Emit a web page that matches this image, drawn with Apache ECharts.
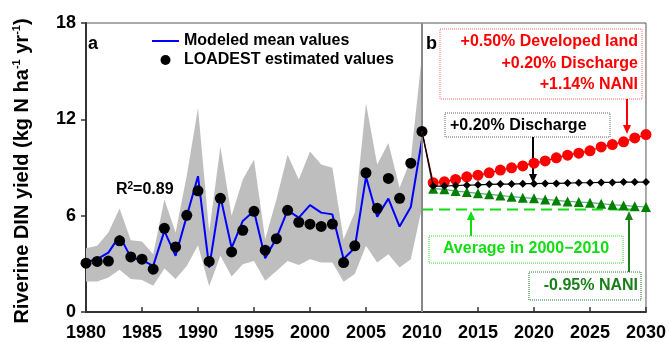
<!DOCTYPE html>
<html>
<head>
<meta charset="utf-8">
<script src="https://cdn.jsdelivr.net/npm/echarts@6.0.0/dist/echarts.min.js"></script>
<style>
  html, body { margin: 0; padding: 0; background: #ffffff; }
  #chart { width: 669px; height: 342px; }
</style>
</head>
<body>
<div id="chart"></div>
<script>
// observed period
const years = [1980, 1981, 1982, 1983, 1984, 1985, 1986, 1987, 1988, 1989, 1990,
  1991, 1992, 1993, 1994, 1995, 1996, 1997, 1998, 1999, 2000,
  2001, 2002, 2003, 2004, 2005, 2006, 2007, 2008, 2009, 2010]
const modeled = [3.1, 3.3, 3.7, 4.74, 3.4, 3.23, 2.87, 5.05, 3.5, 5.98, 8.46,
  2.77, 7.2, 4.0, 5.67, 6.29, 3.35, 4.6, 6.33, 5.88, 6.66,
  6.19, 6.08, 3.3, 4.0, 8.42, 5.94, 7.06, 5.32, 6.54, 10.74]
const loadest = [3.04, 3.15, 3.17, 4.43, 3.43, 3.29, 2.67, 5.21, 4.05, 6.02, 7.55,
  3.15, 7.08, 3.74, 5.09, 6.27, 3.85, 4.57, 6.33, 5.59, 5.47,
  5.33, 5.48, 3.08, 4.12, 8.67, 6.46, 8.32, 7.08, 9.27, 11.25]
const upper = [3.97, 4.12, 4.95, 6.44, 4.47, 4.39, 3.6, 7.0, 4.95, 8.5, 12.7,
  5.0, 10.3, 6.0, 8.26, 9.5, 4.53, 7.0, 9.8, 8.26, 10.0,
  9.19, 8.98, 4.53, 6.19, 13.0, 9.19, 10.53, 7.74, 9.5, 16.0]
const lower = [1.9, 1.9, 2.15, 2.63, 2.05, 2.0, 1.64, 2.71, 2.05, 2.87, 4.16,
  1.6, 3.5, 2.21, 2.98, 3.18, 1.94, 2.56, 3.18, 2.92, 3.29,
  3.08, 3.08, 1.88, 2.36, 4.12, 3.08, 3.6, 2.77, 3.29, 6.5]

// scenario period
const futureYears = [2011, 2012, 2013, 2014, 2015, 2016, 2017, 2018, 2019, 2020,
  2021, 2022, 2023, 2024, 2025, 2026, 2027, 2028, 2029, 2030]
const scenHigh = [8.05, 8.11, 8.26, 8.42, 8.52, 8.67, 8.84, 8.98, 9.1, 9.27,
  9.41, 9.6, 9.77, 9.89, 10.04, 10.28, 10.43, 10.6, 10.84, 11.05]
const scenDischarge = [7.84, 7.84, 7.88, 7.9, 7.92, 7.95, 7.97, 7.97, 7.99, 7.99,
  8.01, 8.01, 8.03, 8.05, 8.05, 8.07, 8.07, 8.09, 8.09, 8.09]
const scenNani = [7.68, 7.64, 7.53, 7.47, 7.39, 7.33, 7.26, 7.18, 7.12, 7.08,
  7.01, 6.95, 6.89, 6.85, 6.81, 6.75, 6.68, 6.64, 6.58, 6.54]
const avg2000s = 6.39
const avgSpan = [2010, 2030]

const font = '"Liberation Sans", Arial, sans-serif'

function pairs (xs, ys) {
  return xs.map((x, i) => [x, ys[i]])
}
// each scenario line starts from the last observed value
function scenario (vals) {
  return [[years[years.length - 1], loadest[loadest.length - 1]]].concat(pairs(futureYears, vals))
}
function hideFirst (size) {
  return function (val, params) { return params.dataIndex === 0 ? 0 : size }
}

function arrow (x, yFrom, yTo, color) {
  const dir = yTo > yFrom ? 1 : -1
  return {
    type: 'group',
    silent: true,
    children: [
      { type: 'line', shape: { x1: x, y1: yFrom, x2: x, y2: yTo - dir * 7 }, style: { stroke: color, lineWidth: 2 } },
      { type: 'polygon', shape: { points: [[x - 4, yTo - dir * 9], [x + 4, yTo - dir * 9], [x, yTo]] }, style: { fill: color } }
    ]
  }
}
function box (x, y, w, h, color) {
  return {
    type: 'rect',
    silent: true,
    shape: { x: x, y: y, width: w, height: h },
    style: { fill: 'rgba(255,255,255,0)', stroke: color, lineWidth: 1, lineDash: [1, 1] }
  }
}
function label (x, y, text, color, align) {
  return {
    type: 'text',
    silent: true,
    x: x,
    y: y,
    style: { text: text, fill: color, font: 'bold 16px ' + font, align: align || 'left', verticalAlign: 'middle' }
  }
}

const chart = echarts.init(document.getElementById('chart'))
const option = {
  animation: false,
  grid: {
    left: 86,
    right: 23,
    top: 23,
    bottom: 29,
    show: true,
    borderColor: '#555',
    borderWidth: 1
  },
  legend: {
    orient: 'vertical',
    left: 147,
    top: 28,
    itemWidth: 27,
    itemHeight: 10,
    itemGap: 3,
    textStyle: { fontFamily: font, fontWeight: 'bold', fontSize: 16, color: '#000' },
    data: [
      { name: 'Modeled mean values', icon: 'path://M0,0 M0,4 L27,4 L27,6 L0,6 Z M27,10' },
      { name: 'LOADEST estimated values', icon: 'circle' }
    ]
  },
  xAxis: {
    type: 'value',
    min: 1980,
    max: 2030,
    interval: 5,
    splitLine: { show: false },
    axisLine: { lineStyle: { color: '#333', width: 2 } },
    axisTick: { inside: true, length: 5, lineStyle: { color: '#333', width: 1.5 } },
    axisLabel: {
      color: '#000', fontFamily: font, fontWeight: 'bold', fontSize: 18, margin: 12,
      formatter: v => String(v)
    }
  },
  yAxis: {
    type: 'value',
    min: 0,
    max: 18,
    interval: 6,
    splitLine: { show: false },
    axisLine: { show: true, lineStyle: { color: '#333', width: 2 } },
    axisTick: { show: true, length: 5, lineStyle: { color: '#333', width: 1.5 } },
    axisLabel: { color: '#000', fontFamily: font, fontWeight: 'bold', fontSize: 18, margin: 10 }
  },
  series: [
    {
      name: 'range',
      type: 'custom',
      z: 1,
      clip: true,
      data: [[years[0], 0]],
      encode: { x: 0, y: 1 },
      renderItem: function (params, api) {
        const pts = []
        for (let i = 0; i < years.length; i++) pts.push(api.coord([years[i], upper[i]]))
        for (let i = years.length - 1; i >= 0; i--) pts.push(api.coord([years[i], lower[i]]))
        return { type: 'polygon', shape: { points: pts }, style: { fill: '#bebebe' } }
      }
    },
    {
      name: 'split',
      type: 'line',
      data: [],
      z: 2,
      markLine: {
        silent: true,
        symbol: 'none',
        label: { show: false },
        lineStyle: { color: '#888', width: 2, type: 'solid' },
        data: [{ xAxis: 2010 }]
      }
    },
    {
      name: 'Average in 2000-2010',
      type: 'line',
      z: 3,
      symbol: 'none',
      data: avgSpan.map(x => [x, avg2000s]),
      lineStyle: { color: '#11dd11', width: 2, type: [11, 6] }
    },
    {
      name: 'Modeled mean values',
      type: 'line',
      z: 4,
      symbol: 'none',
      data: pairs(years, modeled),
      itemStyle: { color: '#0000ff' },
      lineStyle: { color: '#0000ff', width: 2 }
    },
    {
      name: 'LOADEST estimated values',
      type: 'scatter',
      z: 5,
      symbolSize: 11,
      data: pairs(years, loadest),
      itemStyle: { color: '#000', opacity: 1 }
    },
    {
      name: '-0.95% NANI',
      type: 'line',
      z: 6,
      symbol: 'triangle',
      symbolSize: hideFirst(10),
      data: scenario(scenNani),
      itemStyle: { color: '#008000' },
      lineStyle: { color: '#5aa582', width: 1.2 }
    },
    {
      name: '+0.20% Discharge',
      type: 'line',
      z: 7,
      symbol: 'diamond',
      symbolSize: hideFirst(8),
      data: scenario(scenDischarge),
      itemStyle: { color: '#000' },
      lineStyle: { color: '#000', width: 1.2 }
    },
    {
      name: 'high',
      type: 'line',
      z: 6,
      symbol: 'circle',
      symbolSize: hideFirst(11),
      data: scenario(scenHigh),
      itemStyle: { color: '#ff0000' },
      lineStyle: { color: '#aa0000', width: 1.2 }
    }
  ],
  graphic: [
    {
      type: 'text', silent: true, x: 22, y: 171, rotation: Math.PI / 2,
      style: {
        text: '{t|Riverine DIN yield (kg N ha}{s|-1}{t| yr}{s|-1}{t|)}',
        align: 'center',
        verticalAlign: 'middle',
        rich: {
          t: { font: 'bold 20px ' + font, fill: '#000' },
          s: { font: 'bold 11px ' + font, fill: '#000', padding: [0, 0, 10, 0] }
        }
      }
    },
    { type: 'text', silent: true, x: 88, y: 44, style: { text: 'a', font: 'bold 18px ' + font, fill: '#000', verticalAlign: 'middle' } },
    { type: 'text', silent: true, x: 426, y: 44, style: { text: 'b', font: 'bold 18px ' + font, fill: '#000', verticalAlign: 'middle' } },
    {
      type: 'text', silent: true, x: 116, y: 190,
      style: {
        text: '{t|R}{s|2}{t|=0.89}',
        verticalAlign: 'middle',
        rich: {
          t: { font: 'bold 16px ' + font, fill: '#000' },
          s: { font: 'bold 10px ' + font, fill: '#000', padding: [0, 0, 8, 0] }
        }
      }
    },
    box(440, 29, 202, 70, '#ff7070'),
    label(638, 42, '+0.50% Developed land', '#ff0000', 'right'),
    label(638, 64, '+0.20% Discharge', '#ff0000', 'right'),
    label(638, 85, '+1.14% NANI', '#ff0000', 'right'),
    arrow(627, 99, 134, '#ff0000'),
    box(445, 113, 165, 24, '#666'),
    label(450, 126, '+0.20% Discharge', '#000'),
    arrow(533, 137, 183, '#000'),
    box(429, 236, 194, 27, '#33dd33'),
    label(526, 249, 'Average in 2000\u22122010', '#11dd11', 'center'),
    arrow(471, 236, 211, '#11dd11'),
    box(529, 272, 112, 28, '#1e7f1e'),
    label(638, 286, '-0.95% NANI', '#1a7f1a', 'right'),
    arrow(629, 272, 211, '#1a7f1a')
  ]
}
chart.setOption(option)
</script>
</body>
</html>
